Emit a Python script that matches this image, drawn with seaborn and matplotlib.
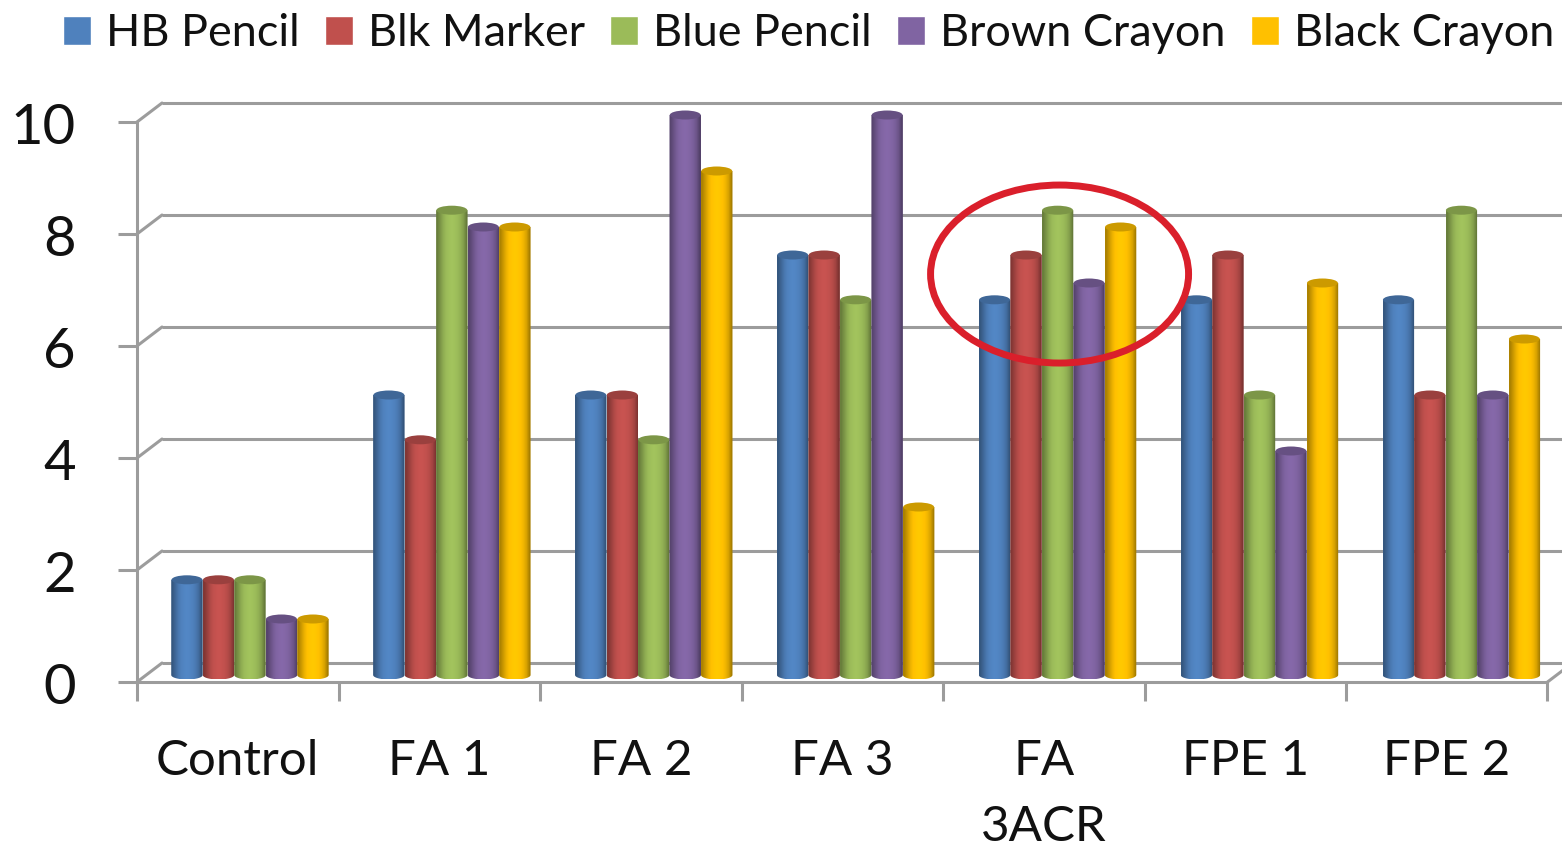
import numpy as np
import pandas as pd
import matplotlib
matplotlib.use('Agg')
import matplotlib.pyplot as plt
from matplotlib.patches import Ellipse, PathPatch
from matplotlib.path import Path
from matplotlib.colors import to_rgb
from matplotlib.transforms import Affine2D
import seaborn as sns

groups = ['Control', 'FA 1', 'FA 2', 'FA 3', 'FA\n3ACR', 'FPE 1', 'FPE 2']
hb_pencil = [1.7, 5, 5, 7.5, 6.7, 6.7, 6.7]
blk_marker = [1.7, 4.2, 5, 7.5, 7.5, 7.5, 5]
blue_pencil = [1.7, 8.3, 4.2, 6.7, 8.3, 5, 8.3]
brown_crayon = [1, 8, 10, 10, 7, 4, 5]
black_crayon = [1, 8, 9, 3, 8, 7, 6]
pens = ['HB Pencil', 'Blk Marker', 'Blue Pencil', 'Brown Crayon', 'Black Crayon']
colors = ['#4F81BD', '#C0504D', '#9BBB59', '#8064A2', '#FFC000']
y_ticks = [0, 2, 4, 6, 8, 10]

W, H = 1562, 849
GROUP_PX = 201.5
BAR_GROUP_PX = 201.9
UNIT_PX = 56.0
GREY = '#9C9C9C'

df = pd.DataFrame({'group': groups * 5,
                   'pen': [p for p in pens for _ in groups],
                   'value': hb_pencil + blk_marker + blue_pencil + brown_crayon + black_crayon})

sns.set_style('white')
plt.rcParams['font.family'] = ['Lato', 'DejaVu Sans']

fig = plt.figure(figsize=(W / 100, H / 100), dpi=100)

# front of the 3d box: the real axes with ticks and labels
frame = fig.add_axes([137 / W, (H - 682) / H, (W - 137) / W, 682 / H])
frame.set_xlim(-0.5, -0.5 + (W - 137) / GROUP_PX)
frame.set_ylim(0, 682 / UNIT_PX)
frame.patch.set_alpha(0)
sns.despine(ax=frame)
for side in ['left', 'bottom']:
    frame.spines[side].set_color(GREY)
    frame.spines[side].set_linewidth(2.2)
frame.spines['left'].set_bounds(0, 10)
frame.spines['bottom'].set_bounds(-0.5, len(groups) - 0.5)
frame.set_yticks(y_ticks)
frame.set_yticklabels([str(t) for t in y_ticks], fontsize=40.5)
frame.tick_params(axis='y', length=14, width=2.2, color=GREY, pad=30, labelcolor='#111111', left=True)
frame.set_xticks(range(len(groups)))
frame.set_xticklabels(groups, fontsize=35.5, linespacing=1.6, color='#111111')
frame.set_xticks(np.arange(len(groups) + 1) - 0.5, minor=True)
frame.tick_params(axis='x', which='major', length=0, pad=41)
frame.tick_params(axis='x', which='minor', length=14, width=2.2, color=GREY, bottom=True)
for lab in frame.get_yticklabels():
    lab.set_transform(lab.get_transform() + Affine2D().translate(0, -2))

# back wall lines, same data space pushed back in pixels
back = Affine2D().translate(25, 19)
for t in y_ticks:
    frame.plot([-0.5, 7.5], [t, t], color=GREY, lw=2.2, clip_on=False,
               transform=frame.transData + back, solid_capstyle='butt')
    frame.plot([-0.5, -0.5 + 25 / GROUP_PX], [t, t + 19 / UNIT_PX], color=GREY, lw=2.2, clip_on=False)
frame.plot([6.5, 6.5 + 25 / GROUP_PX], [0, 19 / UNIT_PX], color=GREY, lw=2.2, clip_on=False)

# bars, sit a bit inside the box. axes goes a bit under zero for the round bottoms
ax = fig.add_axes([149 / W, (H - 690) / H, (W - 149) / W, 690 / H])
ax.patch.set_alpha(0)
sns.barplot(data=df, x='group', y='value', hue='pen', palette=colors, saturation=1,
            width=0.78, gap=0, ax=ax)
xlim = (-0.5, -0.5 + (W - 149) / BAR_GROUP_PX)
ylim = (-15 / UNIT_PX, 675 / UNIT_PX)
ax.set_xlim(xlim)
ax.set_ylim(ylim)

# turn the flat bars into cylinders
cap_h = 9 / UNIT_PX
shade = np.array([0.68, 0.8, 0.92, 1.0, 1.03, 1.05, 1.03, 1.0, 0.94, 0.84, 0.66])
z = 3
for bar in list(ax.patches):
    x0, w, h = bar.get_x(), bar.get_width(), bar.get_height()
    rgb = np.array(to_rgb(bar.get_facecolor()))
    bar.set_alpha(0)
    grad = np.clip(shade[None, :, None] * rgb[None, None, :], 0, 1)
    im = ax.imshow(grad, extent=[x0, x0 + w, -cap_h / 2, h], aspect='auto',
                   interpolation='bilinear', zorder=z, origin='lower')
    th = np.linspace(np.pi, 2 * np.pi, 30)
    xs = x0 + w / 2 + w / 2 * np.cos(th)
    ys = cap_h / 2 * np.sin(th)
    verts = np.column_stack([np.r_[xs, x0 + w, x0], np.r_[ys, h, h]])
    clip = PathPatch(Path(np.vstack([verts, verts[:1]]), closed=True), transform=ax.transData)
    im.set_clip_path(clip)
    ax.add_patch(Ellipse((x0 + w / 2, h), w * 0.98, cap_h, facecolor=rgb * 0.8, edgecolor='none', zorder=z + 0.5))
    z += 1
ax.set_xlim(xlim)
ax.set_ylim(ylim)
ax.axis('off')

# red ring around the FA 3ACR group
ax.add_patch(Ellipse((4.01, 7.16), 258 / BAR_GROUP_PX, 178 / UNIT_PX, facecolor='none',
                     edgecolor='#DA1F2B', lw=5, zorder=100, clip_on=False))

sns.move_legend(ax, loc='upper left', bbox_to_anchor=(63 / W, 1 - 13 / H), bbox_transform=fig.transFigure,
                ncol=5, title=None, frameon=False, fontsize=32.4, handlelength=0.62, handleheight=0.62,
                handletextpad=0.33, columnspacing=0.57, borderpad=0, borderaxespad=0, labelcolor='#111111')

fig.savefig('out.png', dpi=100)
